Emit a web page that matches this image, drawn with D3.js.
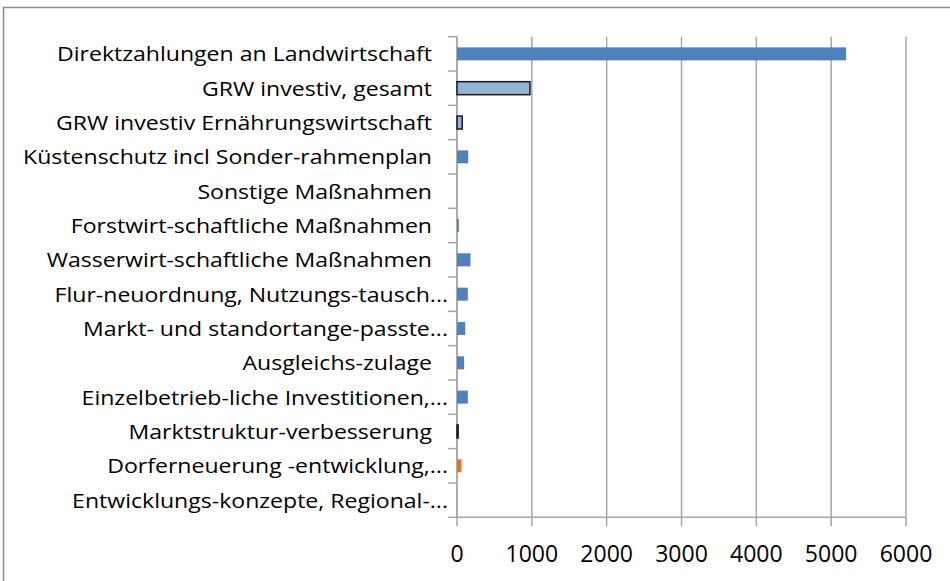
<!DOCTYPE html>
<html>
<head>
<meta charset="utf-8">
<script src="https://cdn.jsdelivr.net/npm/d3@7"></script>
<style>
  html, body { margin: 0; padding: 0; background: #fff; }
  svg { display: block; }
</style>
</head>
<body>
<svg id="chart"></svg>
<script>
// categories top to bottom
const categories = [
  "Direktzahlungen an Landwirtschaft",
  "GRW investiv, gesamt",
  "GRW investiv Ernährungswirtschaft",
  "Küstenschutz incl Sonder-rahmenplan",
  "Sonstige Maßnahmen",
  "Forstwirt-schaftliche Maßnahmen",
  "Wasserwirt-schaftliche Maßnahmen",
  "Flur-neuordnung, Nutzungs-tausch...",
  "Markt- und standortange-passte...",
  "Ausgleichs-zulage",
  "Einzelbetrieb-liche Investitionen,...",
  "Marktstruktur-verbesserung",
  "Dorferneuerung -entwicklung,...",
  "Entwicklungs-konzepte, Regional-..."
];
const values = [5200, 975, 70, 150, 0, 25, 180, 145, 110, 95, 145, 15, 60, 0];
const xTicks = [0, 1000, 2000, 3000, 4000, 5000, 6000];

// bar look per category (default is the plain blue)
const barStyle = {
  "GRW investiv, gesamt": { fill: "#95b3d7", stroke: "#1a1a1a" },
  "GRW investiv Ernährungswirtschaft": { fill: "#95b3d7", stroke: "#1a1a1a" },
  "Marktstruktur-verbesserung": { fill: "#1a1a1a", stroke: "#1a1a1a" },
  "Dorferneuerung -entwicklung,...": { fill: "#f07022", stroke: null }
};

const width = 950, height = 581;
const plot = { left: 457, right: 906, top: 36.7, bottom: 517.3 };

const svg = d3.select("#chart")
    .attr("width", width)
    .attr("height", height)
    .attr("font-family", "'Open Sans', sans-serif");

// outer frame (only top and left edges are visible)
svg.append("path")
    .attr("d", `M3.5,${height + 5}V7.5H${width + 5}`)
    .attr("fill", "none")
    .attr("stroke", "#8c8c8c")
    .attr("stroke-width", 1.5);

const x = d3.scaleLinear().domain([0, 6000]).range([plot.left, plot.right]);
const y = d3.scaleBand().domain(categories).range([plot.top, plot.bottom]).padding(0);
const barH = 13;

// vertical gridlines + ticks below axis
svg.append("g")
    .attr("stroke", "#a6a6a6")
    .attr("stroke-width", 1.5)
  .selectAll("line")
  .data(xTicks)
  .join("line")
    .attr("x1", d => x(d)).attr("x2", d => x(d))
    .attr("y1", plot.top).attr("y2", plot.bottom + 9);

// x axis line
svg.append("line")
    .attr("x1", plot.left).attr("x2", plot.right)
    .attr("y1", plot.bottom).attr("y2", plot.bottom)
    .attr("stroke", "#a6a6a6").attr("stroke-width", 1.5);

// y axis line + category boundary ticks
const bounds = categories.map(c => y(c)).concat([plot.bottom]);
svg.append("line")
    .attr("x1", plot.left).attr("x2", plot.left)
    .attr("y1", plot.top).attr("y2", plot.bottom)
    .attr("stroke", "#a6a6a6").attr("stroke-width", 1.5);
svg.append("g")
    .attr("stroke", "#a6a6a6")
    .attr("stroke-width", 1.5)
  .selectAll("line")
  .data(bounds)
  .join("line")
    .attr("x1", plot.left - 9).attr("x2", plot.left)
    .attr("y1", d => d).attr("y2", d => d);

// bars
svg.append("g")
  .selectAll("rect")
  .data(categories.map((c, i) => ({ c, v: values[i] })).filter(d => d.v > 0))
  .join("rect")
    .attr("x", x(0))
    .attr("y", d => y(d.c) + y.bandwidth() / 2 - barH / 2)
    .attr("width", d => x(d.v) - x(0))
    .attr("height", barH)
    .attr("fill", d => (barStyle[d.c] || {}).fill || "#4f81bd")
    .attr("stroke", d => (barStyle[d.c] || {}).stroke || null)
    .attr("stroke-width", 1.5);

// category labels
const labels = svg.append("g")
    .attr("font-size", 20.5)
    .attr("fill", "#000")
  .selectAll("text")
  .data(categories)
  .join("text")
    .attr("x", d => d.endsWith("...") ? 448 : 432)
    .attr("y", d => y(d) + y.bandwidth() / 2)
    .attr("dy", "0.36em")
    .attr("text-anchor", "end")
    .text(d => d);

// squeeze the labels to the narrower look of the original font
const refW = labels.nodes()[0].getComputedTextLength();
const squeeze = 375 / refW;
labels.each(function() {
  const w = this.getComputedTextLength();
  d3.select(this).attr("textLength", w * squeeze).attr("lengthAdjust", "spacingAndGlyphs");
});

// x tick labels
svg.append("g")
    .attr("font-size", 23)
    .attr("fill", "#000")
  .selectAll("text")
  .data(xTicks)
  .join("text")
    .attr("x", d => x(d))
    .attr("y", 562)
    .attr("text-anchor", "middle")
    .text(d => d);
</script>
</body>
</html>
